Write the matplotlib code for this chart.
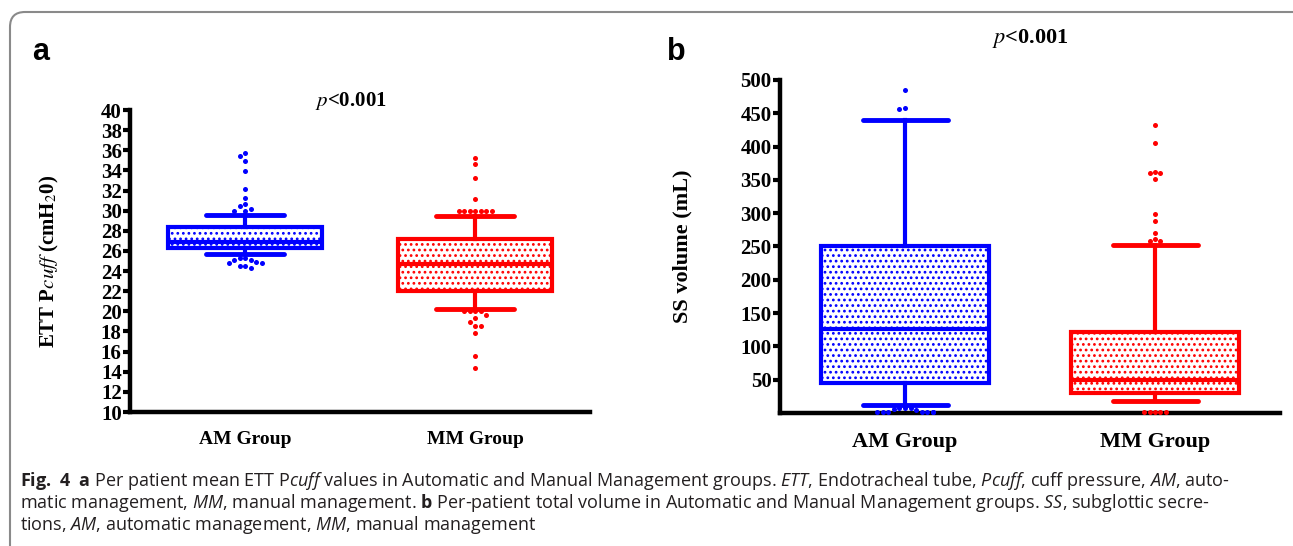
import numpy as np
import matplotlib
matplotlib.use('Agg')
import matplotlib.pyplot as plt
from matplotlib.patches import FancyBboxPatch

plt.rcParams['mathtext.fontset'] = 'custom'
plt.rcParams['mathtext.rm'] = 'Open Sans'
plt.rcParams['mathtext.it'] = 'Open Sans:italic'
plt.rcParams['mathtext.bf'] = 'Open Sans:bold'
plt.rcParams['hatch.linewidth'] = 1.2

#---------------------------------------- datos ----------------------------------------#
groups = ['AM Group', 'MM Group']

# a: ETT Pcuff (cmH2O)
a_q1 = [26.3, 22.05]
a_med = [26.9, 24.7]
a_q3 = [28.35, 27.15]
a_lo = [25.7, 20.2]
a_hi = [29.6, 29.5]
a_out_am = [35.7, 35.4, 34.9, 33.9, 32.2, 31.3, 30.65, 30.45, 30.2, 30.0, 30.0,
            25.3, 25.3, 25.1, 25.1, 24.9, 24.8, 24.8, 24.5, 24.5, 24.35]
a_out_mm = [35.25, 34.6, 33.2, 31.2, 30.0, 30.0, 30.0, 30.0, 30.0, 30.0, 30.0,
            20.0, 20.0, 20.0, 20.0, 19.6, 19.3, 18.95, 18.5, 18.5, 17.8, 15.6, 14.4]
a_ticks = list(range(10, 41, 2))

# b: SS volume (mL)
b_q1 = [45, 30]
b_med = [126, 50]
b_q3 = [251, 121]
b_lo = [11.5, 17.5]
b_hi = [440, 252]
b_out_am = [485, 458, 456, 7.5, 7.5, 7.5, 6.5, 4, 1, 1, 1, 1, 1, 1, 1]
b_out_mm = [432, 405, 362, 361, 360, 351, 299, 288, 271, 261, 258, 258, 1, 1, 1, 1, 1]
b_ticks = list(range(50, 501, 50))

colors = ['#0000ff', '#ff0000']


def swarm(ax, x0, vals, d=5.5):
    # coloca los puntos sin solaparse (en pixeles)
    pts = ax.transData.transform(np.column_stack([np.full(len(vals), x0), vals]))
    placed = []
    for px, py in pts:
        for k in [0, -1, 1, -2, 2, -3, 3, -4, 4, -5, 5]:
            cx = px + k * d
            if all((cx - qx) ** 2 + (py - qy) ** 2 >= 0.85 * d * d for qx, qy in placed):
                break
        placed.append((cx, py))
    return ax.transData.inverted().transform(np.array(placed))


def panel(ax, q1, med, q3, lo, hi, outs, ylim, ticks, tick_fs, xfs):
    ax.set_xlim(-0.5, 1.5)
    ax.set_ylim(*ylim)
    for i in range(2):
        c = colors[i]
        st = [dict(med=med[i], q1=q1[i], q3=q3[i], whislo=lo[i], whishi=hi[i], fliers=[])]
        ax.bxp(st, positions=[i], widths=0.67, capwidths=0.34, patch_artist=True, showfliers=False,
               boxprops=dict(facecolor='white', edgecolor=c, linewidth=3, hatch='...'),
               whiskerprops=dict(color=c, linewidth=3),
               capprops=dict(color=c, linewidth=3.5, solid_capstyle='round'),
               medianprops=dict(color=c, linewidth=3))
        xy = swarm(ax, i, outs[i])
        ax.scatter(xy[:, 0], xy[:, 1], s=13, color=c, zorder=5, clip_on=False, linewidths=0)
    for s in ['top', 'right']:
        ax.spines[s].set_visible(False)
    for s in ['left', 'bottom']:
        ax.spines[s].set_linewidth(3.2)
    ax.set_yticks(ticks)
    ax.set_yticklabels([str(t) for t in ticks], family='Liberation Serif', weight='bold', fontsize=tick_fs)
    ax.set_xticks([0, 1])
    ax.set_xticklabels(groups, family='Liberation Serif', weight='bold', fontsize=xfs)
    ax.tick_params(axis='y', length=5, width=3, pad=1)
    ax.tick_params(axis='x', length=0, pad=14)
    ax.set_facecolor('none')


fig = plt.figure(figsize=(12.93, 5.46), dpi=100)

# marco redondeado
fig.patches.append(FancyBboxPatch((0.10, -0.5), 13.0, 5.84, boxstyle='round,pad=0,rounding_size=0.15',
                                  transform=fig.dpi_scale_trans, facecolor='none',
                                  edgecolor='#8a8a8a', linewidth=1.5))

ax1 = fig.add_axes([130 / 1293, 1 - 412 / 546, 460 / 1293, 302 / 546])
panel(ax1, a_q1, a_med, a_q3, a_lo, a_hi, [a_out_am, a_out_mm], (10, 40), a_ticks, 15, 14)
ax1.set_ylabel(r'ETT P$\it{cuff}$ (cmH$_2$0)', family='Liberation Serif', weight='bold',
               fontsize=15, math_fontfamily='stix')
ax1.yaxis.set_label_coords(-0.15, 0.5)
ax1.text(0.48, 1.03, r'$p$<0.001', transform=ax1.transAxes, ha='center', va='center',
         family='Liberation Serif', weight='bold', fontsize=15, math_fontfamily='stix')

ax2 = fig.add_axes([780 / 1293, 1 - 413 / 546, 500 / 1293, 333 / 546])
panel(ax2, b_q1, b_med, b_q3, b_lo, b_hi, [b_out_am, b_out_mm], (0, 500), b_ticks, 15, 16)
ax2.set_ylabel('SS volume (mL)', family='Liberation Serif', weight='bold', fontsize=16)
ax2.yaxis.set_label_coords(-0.176, 0.5)
ax2.text(0.5, 1.125, r'$p$<0.001', transform=ax2.transAxes, ha='center', va='center',
         family='Liberation Serif', weight='bold', fontsize=16, math_fontfamily='stix')

fig.text(32 / 1293, 1 - 52 / 546, 'a', family='Liberation Sans', weight='bold', fontsize=22, va='center')
fig.text(667 / 1293, 1 - 52 / 546, 'b', family='Liberation Sans', weight='bold', fontsize=22, va='center')

# pie de figura
cap = [
    r'$\bf{Fig.\ 4}$  $\bf{a}$ Per patient mean ETT P$\it{cuff}$ values in Automatic and Manual Management groups. '
    r'$\it{ETT}$, Endotracheal tube, $\it{Pcuff}$, cuff pressure, $\it{AM}$, auto-',
    r'matic management, $\it{MM}$, manual management. $\bf{b}$ Per-patient total volume in Automatic and Manual '
    r'Management groups. $\it{SS}$, subglottic secre-',
    r'tions, $\it{AM}$, automatic management, $\it{MM}$, manual management',
]
for i, line in enumerate(cap):
    fig.text(20 / 1293, 1 - (486 + 22 * i) / 546, line, family='Open Sans', fontsize=13,
             color='#231f20', va='baseline', math_fontfamily='custom')

fig.savefig('out.png', dpi=100)
